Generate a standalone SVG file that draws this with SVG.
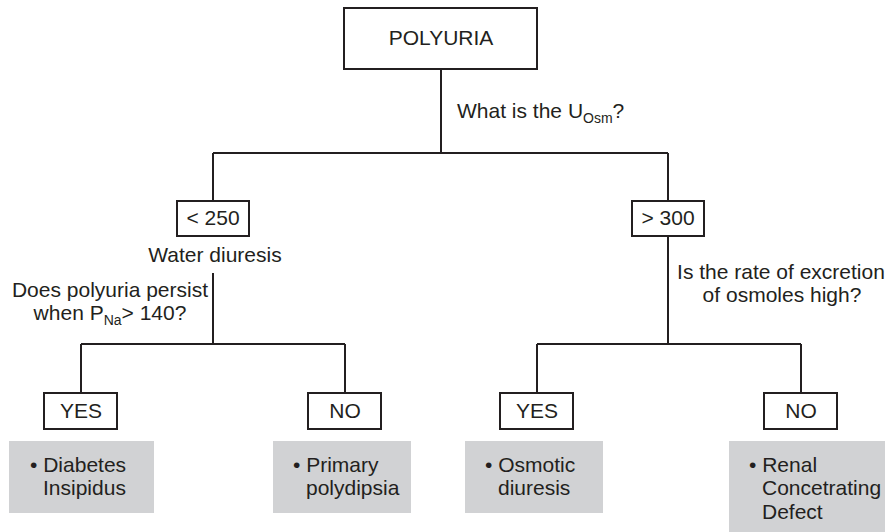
<svg xmlns="http://www.w3.org/2000/svg" width="885" height="532" viewBox="0 0 885 532">
<style>
text{font-family:"Liberation Sans",Arial,Helvetica,sans-serif;font-size:21px;fill:#231f20}
.m{text-anchor:middle}
.box{fill:#fff;stroke:#231f20;stroke-width:2}
.res{fill:#d1d2d4;stroke:none}
.ln{fill:none;stroke:#231f20;stroke-width:2}
.sub{font-size:14px}
</style>
<rect width="885" height="532" fill="#fff"/>
<g id="connectors">
<path class="ln" d="M441 69V153M213 153H668M213 153V201M668 153V201M213 273V344M668 237V344M81 344H345M81 344V393M345 344V393M537 344H801M537 344V393M801 344V393"/>
</g>
<g id="polyuria"><rect class="box" x="344" y="8" width="193" height="61"/><text class="m" x="441" y="45">POLYURIA</text></g>
<g id="q1"><text x="457" y="118">What is the U<tspan class="sub" dy="5">Osm</tspan><tspan dy="-5">?</tspan></text></g>
<g id="lt250"><rect class="box" x="177" y="201" width="72" height="35"/><text class="m" x="213" y="225">&lt; 250</text></g>
<g id="water"><text class="m" x="215" y="262">Water diuresis</text></g>
<g id="q2"><text class="m" x="110" y="297">Does polyuria persist</text><text class="m" x="110" y="320">when P<tspan class="sub" dy="5">Na</tspan><tspan dy="-5">&gt; 140?</tspan></text></g>
<g id="gt300"><rect class="box" x="632" y="201" width="72" height="35"/><text class="m" x="668" y="225">&gt; 300</text></g>
<g id="q3"><text class="m" x="781" y="279">Is the rate of excretion</text><text class="m" x="782" y="302">of osmoles high?</text></g>
<g id="yes1"><rect class="box" x="44" y="393" width="73" height="36"/><text class="m" x="81" y="418">YES</text></g>
<g id="no1"><rect class="box" x="308" y="393" width="73" height="36"/><text class="m" x="345" y="418">NO</text></g>
<g id="yes2"><rect class="box" x="500" y="393" width="73" height="36"/><text class="m" x="537" y="418">YES</text></g>
<g id="no2"><rect class="box" x="764" y="393" width="73" height="36"/><text class="m" x="801" y="418">NO</text></g>
<g id="di"><rect class="res" x="9" y="441" width="145" height="72"/><text x="30" y="472">• Diabetes</text><text x="43" y="495">Insipidus</text></g>
<g id="pp"><rect class="res" x="273" y="441" width="138" height="72"/><text x="293" y="472">• Primary</text><text x="306" y="495">polydipsia</text></g>
<g id="od"><rect class="res" x="465" y="441" width="138" height="72"/><text x="485" y="472">• Osmotic</text><text x="498" y="495">diuresis</text></g>
<g id="rcd"><rect class="res" x="729" y="441" width="156" height="91"/><text x="749" y="472">• Renal</text><text x="762" y="495">Concetrating</text><text x="762" y="519">Defect</text></g>
</svg>
